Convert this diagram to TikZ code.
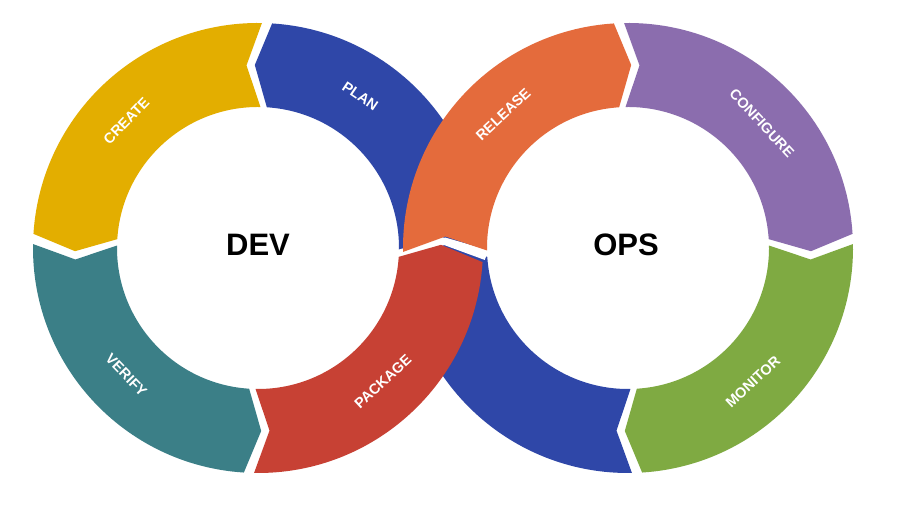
\documentclass[tikz,border=0pt]{standalone}
\usepackage{fontspec}
\setmainfont{Liberation Sans}
\begin{document}
\begin{tikzpicture}[x=1pt,y=1pt,
  lbl/.style={text=white,font=\bfseries\fontsize{14.5}{14.5}\selectfont},
  big/.style={text=black,font=\bfseries\fontsize{31}{31}\selectfont},
  gapline/.style={white,line width=6pt,line join=miter}]
\definecolor{cyel}{HTML}{E3AE00}
\definecolor{cblue}{HTML}{2F47A8}
\definecolor{corange}{HTML}{E46B3C}
\definecolor{cpurple}{HTML}{8B6DAE}
\definecolor{cgreen}{HTML}{7FAA42}
\definecolor{cteal}{HTML}{3B7F87}
\definecolor{cred}{HTML}{C74134}
\useasboundingbox[fill=white] (0,0) rectangle (900,508);
\coordinate (L) at (258,260);
\coordinate (R) at (628,260);
% #1 center, #2 color, #3 A, #4 N, #5 B, #6 T
\newcommand{\seg}[6]{%
  \fill[#2] ([shift={(#3:225)}]#1) arc[start angle=#3,end angle=#5,radius=225]
    -- ([shift={(#6:183)}]#1) -- ([shift={(#5:141)}]#1)
    arc[start angle=#5,end angle=#3,radius=141]
    -- ([shift={(#4:183)}]#1) -- cycle;}
\seg{L}{cyel}{89}{93.6}{176.4}{181}
\seg{L}{cteal}{179}{183.6}{266.4}{271}
\seg{L}{cblue}{-1}{3.6}{86.4}{91}
\seg{R}{cpurple}{91}{86.4}{3.6}{-1}
\seg{R}{cgreen}{1}{-3.6}{-86.4}{-91}
\seg{R}{cblue}{-89}{-93.6}{-176.4}{-181}
\draw[gapline] ([shift={(182.3:138)}]R) -- ([shift={(177.7:183)}]R) -- ([shift={(182.3:228)}]R);
\seg{L}{cred}{269}{273.6}{356.4}{361}
\draw[gapline] ([shift={(357.7:138)}]L) -- ([shift={(2.3:183)}]L) -- ([shift={(357.7:228)}]L);
\seg{R}{corange}{181}{176.4}{93.6}{89}
\node[lbl,rotate=46] (create) at ([shift={(136:183)}]L) {CREATE};
\node[lbl,rotate=-34] (plan) at ([shift={(56:183)}]L) {PLAN};
\node[lbl,rotate=-46] (verify) at ([shift={(224:183)}]L) {VERIFY};
\node[lbl,rotate=43] (package) at ([shift={(313:183)}]L) {PACKAGE};
\node[lbl,rotate=43] (release) at ([shift={(133:183)}]R) {RELEASE};
\node[lbl,rotate=-47] (configure) at ([shift={(43:183)}]R) {CONFIGURE};
\node[lbl,rotate=43] (monitor) at ([shift={(313:183)}]R) {MONITOR};
\node[big] (dev) at (258,263) {DEV};
\node[big] (ops) at (626,263) {OPS};
\end{tikzpicture}
\end{document}
